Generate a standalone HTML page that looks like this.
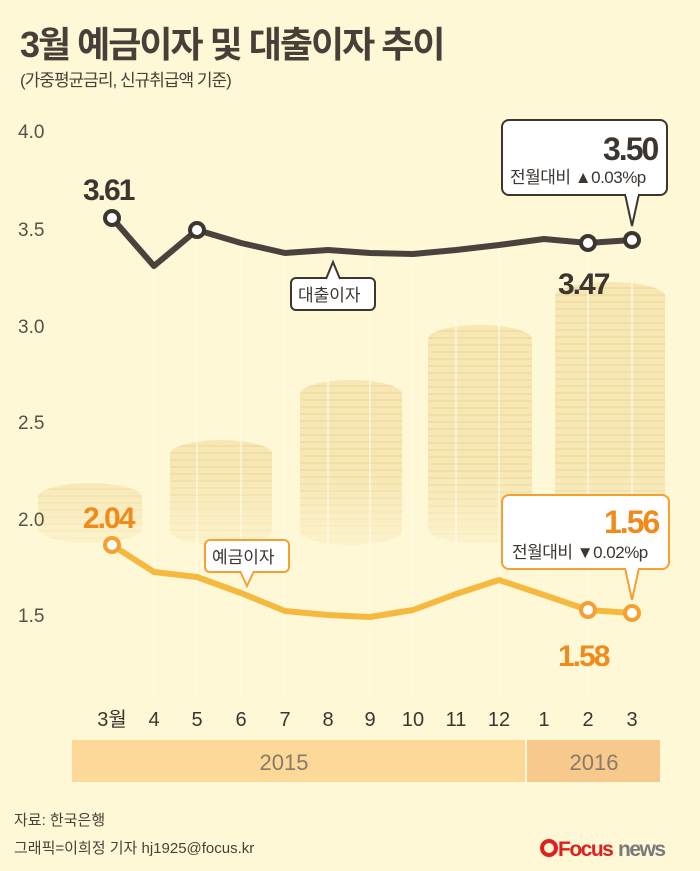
<!DOCTYPE html>
<html><head><meta charset="utf-8"><style>
body{margin:0;width:700px;height:871px;background:#fef8d6;position:relative;overflow:hidden;font-family:"Liberation Sans","Noto Sans CJK KR",sans-serif;}
.t{position:absolute;white-space:nowrap}
.coin{position:absolute;border-radius:50%/14px;background:repeating-linear-gradient(180deg,#f2dc9c 0 5px,#e9cd86 5px 7px);opacity:.6}
</style></head><body>
<div class="t" style="left:20px;top:16px;font-size:36px;font-weight:bold;color:#4a3f38;letter-spacing:-2px">3월 예금이자 및 대출이자 추이</div>
<div class="t" style="left:20px;top:66px;font-size:17px;color:#4a3f38;letter-spacing:-1px">(가중평균금리, 신규취급액 기준)</div>
<div class="coin" style="left:38px;top:483px;width:104px;height:60px"></div>
<div class="coin" style="left:170px;top:440px;width:102px;height:105px"></div>
<div class="coin" style="left:300px;top:380px;width:102px;height:165px"></div>
<div class="coin" style="left:428px;top:325px;width:104px;height:218px"></div>
<div class="coin" style="left:555px;top:282px;width:110px;height:260px"></div>
<div style="position:absolute;left:0;top:470px;width:700px;height:240px;background:linear-gradient(180deg,rgba(254,248,214,0),rgba(254,248,214,.9) 40%,#fef8d6)"></div>
<svg width="700" height="871" style="position:absolute;left:0;top:0">
<g stroke="#fffbe8" stroke-width="1.5" opacity=".8">
<line x1="154" y1="270" x2="154" y2="700"/><line x1="197" y1="240" x2="197" y2="700"/><line x1="241" y1="250" x2="241" y2="700"/><line x1="285" y1="255" x2="285" y2="700"/><line x1="328" y1="255" x2="328" y2="700"/><line x1="370" y1="255" x2="370" y2="700"/><line x1="413" y1="255" x2="413" y2="700"/><line x1="456" y1="255" x2="456" y2="700"/><line x1="499" y1="250" x2="499" y2="700"/><line x1="544" y1="245" x2="544" y2="700"/><line x1="588" y1="250" x2="588" y2="700"/><line x1="632" y1="250" x2="632" y2="700"/>
</g>
<g font-size="19" fill="#5a5048" font-family="Liberation Sans, sans-serif">
<text x="18" y="138">4.0</text><text x="18" y="236">3.5</text><text x="18" y="333">3.0</text><text x="18" y="429">2.5</text><text x="18" y="526">2.0</text><text x="18" y="622">1.5</text>
</g>
<polyline fill="none" stroke="#4a433d" stroke-width="6" stroke-linejoin="round" points="112,218 154,266 197,230 241,243 285,253 328,250 370,253 413,254 456,250 499,245 544,239 588,243 632,240"/>
<polyline fill="none" stroke="#f5b93f" stroke-width="6" stroke-linejoin="round" points="112,545 154,572 197,577 241,593 285,611 328,615 370,617 413,610 456,594 499,580 544,595 588,610 632,613"/>
<g fill="#fff" stroke="#3d3530" stroke-width="4"><circle cx="112" cy="218" r="7"/><circle cx="197" cy="230" r="7"/><circle cx="588" cy="243" r="7"/><circle cx="632" cy="240" r="7"/></g>
<g fill="#fff" stroke="#f5a030" stroke-width="4"><circle cx="112" cy="545" r="7"/><circle cx="588" cy="610" r="7"/><circle cx="632" cy="613" r="7"/></g>
<g font-weight="bold" font-size="30" letter-spacing="-2">
<text x="83" y="200" fill="#3d3530">3.61</text><text x="558" y="294" fill="#3d3530">3.47</text>
<text x="83" y="528" fill="#f08a1a">2.04</text><text x="558" y="666" fill="#f08a1a">1.58</text></g>
<rect x="502" y="120" width="165" height="75" rx="7" fill="#fff" stroke="#3d3530" stroke-width="2"/>
<path d="M625 194 L632 226 L639 194" fill="#fff" stroke="#3d3530" stroke-width="2"/><rect x="626" y="190" width="12" height="6" fill="#fff"/>
<text x="603" y="160" font-size="32" font-weight="bold" fill="#3d3530" letter-spacing="-2">3.50</text>
<text x="510" y="183" font-size="17" fill="#3d3530" letter-spacing="-0.5">전월대비 ▲0.03%p</text>
<rect x="502" y="495" width="167" height="74" rx="7" fill="#fff" stroke="#f5a030" stroke-width="2"/>
<path d="M625 568 L632 600 L639 568" fill="#fff" stroke="#f5a030" stroke-width="2"/><rect x="626" y="564" width="12" height="6" fill="#fff"/>
<text x="604" y="533" font-size="32" font-weight="bold" fill="#f08a1a" letter-spacing="-2">1.56</text>
<text x="512" y="558" font-size="17" fill="#3d3530" letter-spacing="-0.5">전월대비 ▼0.02%p</text>
<rect x="291" y="278" width="84" height="32" rx="5" fill="#fff" stroke="#3d3530" stroke-width="2"/>
<path d="M326 279 L333 262 L340 279" fill="#fff" stroke="#3d3530" stroke-width="2"/>
<text x="298" y="301" font-size="17" fill="#3d3530">대출이자</text>
<rect x="205" y="540" width="84" height="32" rx="5" fill="#fff" stroke="#f5a030" stroke-width="2"/>
<path d="M240 571 L247 586 L254 571" fill="#fff" stroke="#f5a030" stroke-width="2"/>
<text x="212" y="563" font-size="17" fill="#3d3530">예금이자</text>
<g font-size="20" fill="#3d3530" text-anchor="middle">
<text x="112" y="726">3월</text><text x="154" y="726">4</text><text x="197" y="726">5</text><text x="241" y="726">6</text><text x="285" y="726">7</text><text x="328" y="726">8</text><text x="370" y="726">9</text><text x="413" y="726">10</text><text x="456" y="726">11</text><text x="499" y="726">12</text><text x="544" y="726">1</text><text x="588" y="726">2</text><text x="632" y="726">3</text></g>
<rect x="72" y="740" width="453" height="42" fill="#fcd999"/>
<rect x="527" y="740" width="133" height="42" fill="#f8c98c"/>
<g font-size="22" fill="#8a7a68" text-anchor="middle"><text x="284" y="770">2015</text><text x="594" y="770">2016</text></g>
<text x="14" y="825" font-size="15" fill="#4a3f38">자료: 한국은행</text>
<text x="14" y="853" font-size="15" fill="#4a3f38">그래픽=이희정 기자 hj1925@focus.kr</text>
<circle cx="549" cy="848" r="7" fill="none" stroke="#e02020" stroke-width="4"/>
<text x="558" y="856" font-size="21" font-weight="bold" fill="#e02020" letter-spacing="-1.5">Focus</text>
<text x="618" y="856" font-size="21" font-weight="bold" fill="#7a7a7a" letter-spacing="-1.5">news</text>
</svg>
</body></html>
